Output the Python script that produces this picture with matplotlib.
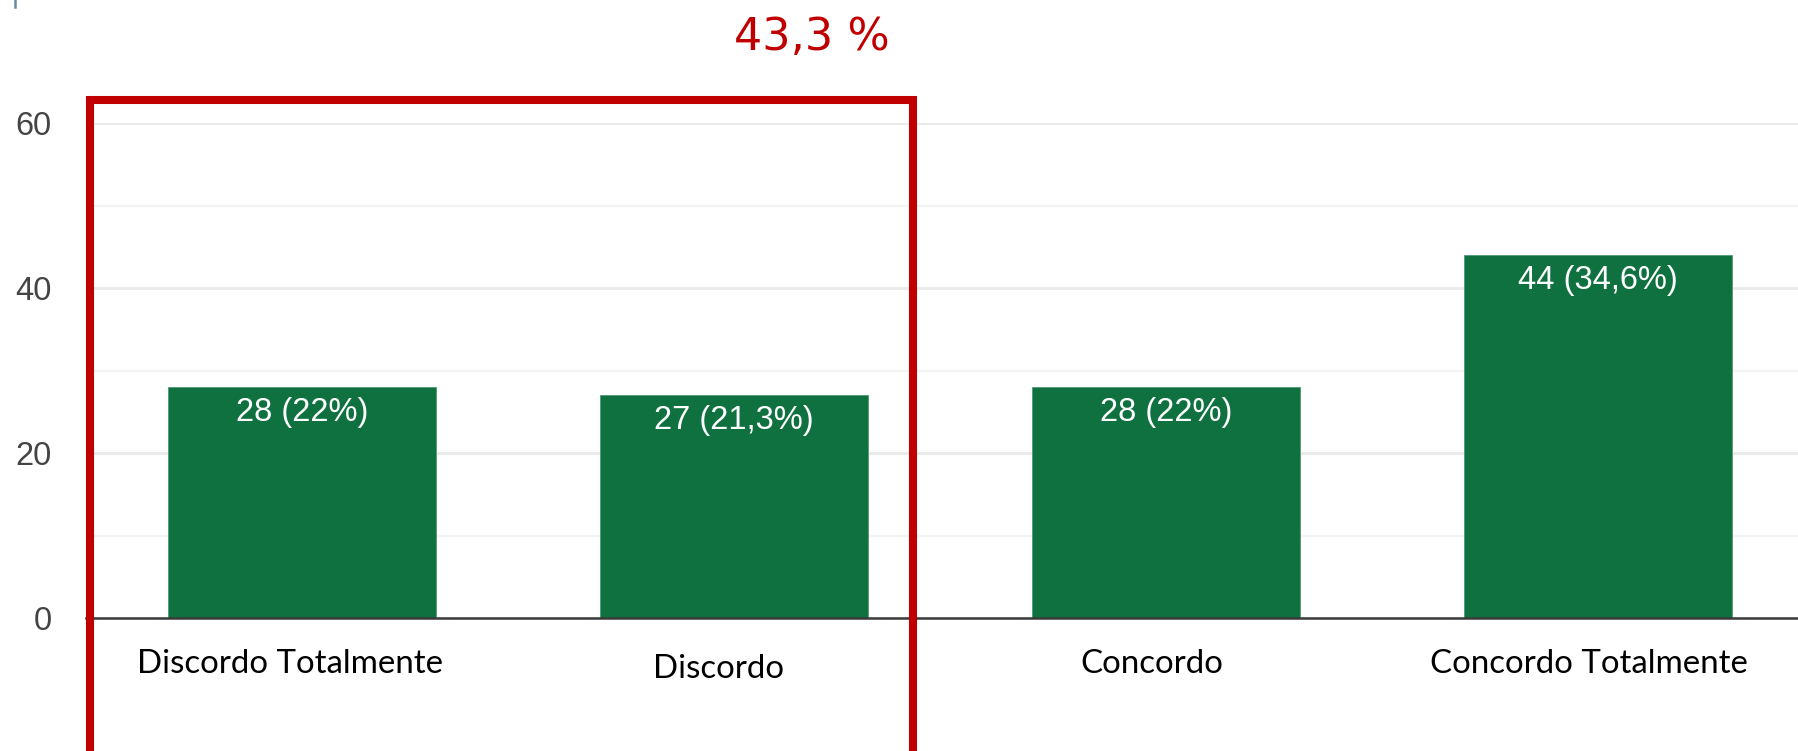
import matplotlib.pyplot as plt
from matplotlib.patches import Rectangle
from matplotlib.lines import Line2D

# Survey answers and counts
categories = ["Discordo Totalmente", "Discordo", "Concordo", "Concordo Totalmente"]
counts = [28, 27, 28, 44]
value_labels = ["28 (22%)", "27 (21,3%)", "28 (22%)", "44 (34,6%)"]
highlight_text = "43,3 %"

W, H = 1799, 751
fig = plt.figure(figsize=(W / 100, H / 100), dpi=100)

# axes placed in pixels of the reference: left 86, x=0 at y=618, 60 at y=123
ax = fig.add_axes([86 / W, (H - 618) / H, (W - 86) / W, (618 - 123) / H])
xs = list(range(len(categories)))

ax.bar(xs, counts, width=0.62, color="#0f7140", edgecolor="#4f9a73",
       linewidth=0.6, zorder=3)

ax.set_xlim(-0.5, -0.5 + (W - 86) / 432)
ax.set_ylim(0, 60)

# grid: strong lines at 20s, faint ones in between
ax.set_yticks([0, 20, 40, 60])
ax.set_yticks([10, 30, 50], minor=True)
ax.grid(axis="y", which="major", color="#ebebeb", linewidth=2.2, zorder=0)
ax.grid(axis="y", which="minor", color="#f4f4f4", linewidth=1.6, zorder=0)
ax.axhline(0, color="#3a3a3a", linewidth=1.8, zorder=4, clip_on=False)

for s in ax.spines.values():
    s.set_visible(False)
ax.set_xticks([])
ax.tick_params(axis="y", which="both", length=0, pad=24.5,
               labelsize=23.5, labelcolor="#444444")
for lab in ax.get_yticklabels():
    lab.set_fontfamily("Liberation Sans")

# value labels inside the bars
for x, c, t in zip(xs, counts, value_labels):
    ax.annotate(t, xy=(x, c), xytext=(0, -7), textcoords="offset points",
                ha="center", va="top", color="white", fontsize=23.5,
                family="Liberation Sans", zorder=5)

# category labels (pasted text boxes, slightly offset)
label_dx = [-8.6, -11.5, -10, -6.5]
label_dy = [-39.6, -43.2, -39.6, -39.6]
for x, name, dx, dy in zip(xs, categories, label_dx, label_dy):
    ax.annotate(name, xy=(x, 0), xytext=(dx, dy), textcoords="offset points",
                ha="center", va="baseline", color="black", fontsize=23.8,
                family="Lato", annotation_clip=False)

# red highlight box around the two "discordo" bars
fig.add_artist(Rectangle((90 / W, (H - 753) / H), (913 - 90) / W, (753 - 100) / H,
                         transform=fig.transFigure, fill=False,
                         edgecolor="#c00000", linewidth=5.8, zorder=10))
fig.text(812 / W, (H - 50) / H, highlight_text, ha="center", va="baseline",
         color="#c00000", fontsize=32, family="DejaVu Sans")

# small leftover mark at the top left
fig.add_artist(Line2D([15 / W, 15 / W], [1, (H - 7) / H], color="#6a86a8",
                      linewidth=1.8))

fig.savefig("out.png", dpi=100)
